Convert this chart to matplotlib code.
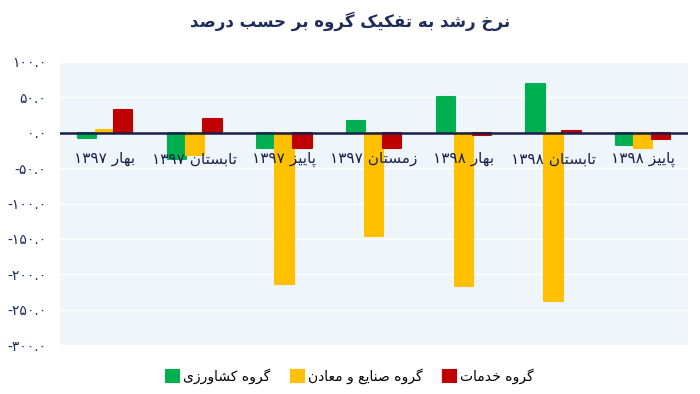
import re
import numpy as np
import matplotlib
matplotlib.use("Agg")
import matplotlib.pyplot as plt

# ---- datos ----
fases = ["بهار ۱۳۹۷", "تابستان ۱۳۹۷", "پاییز ۱۳۹۷", "زمستان ۱۳۹۷",
         "بهار ۱۳۹۸", "تابستان ۱۳۹۸", "پاییز ۱۳۹۸"]
keshavarzi = [-7, -37, -21, 16, 50, 69, -17]
sanaye = [4, -31, -214, -146, -216, -238, -21]
khadamat = [32, 20, -21, -21, -3, 3, -9]
nombres = ["گروه کشاورزی", "گروه صنایع و معادن", "گروه خدمات"]
colores = ["#00b050", "#ffc000", "#c00000"]
titulo = "نرخ رشد به تفکیک گروه بر حسب درصد"
yticks = [100, 50, 0, -50, -100, -150, -200, -250, -300]

# ---- formas de presentación (iso, fin, ini, med) ----
FORMAS = {
    "ا": ("\uFE8D", "\uFE8E", None, None),
    "ب": ("\uFE8F", "\uFE90", "\uFE91", "\uFE92"),
    "پ": ("\uFB56", "\uFB57", "\uFB58", "\uFB59"),
    "ت": ("\uFE95", "\uFE96", "\uFE97", "\uFE98"),
    "ح": ("\uFEA1", "\uFEA2", "\uFEA3", "\uFEA4"),
    "خ": ("\uFEA5", "\uFEA6", "\uFEA7", "\uFEA8"),
    "د": ("\uFEA9", "\uFEAA", None, None),
    "ر": ("\uFEAD", "\uFEAE", None, None),
    "ز": ("\uFEAF", "\uFEB0", None, None),
    "س": ("\uFEB1", "\uFEB2", "\uFEB3", "\uFEB4"),
    "ش": ("\uFEB5", "\uFEB6", "\uFEB7", "\uFEB8"),
    "ص": ("\uFEB9", "\uFEBA", "\uFEBB", "\uFEBC"),
    "ع": ("\uFEC9", "\uFECA", "\uFECB", "\uFECC"),
    "ف": ("\uFED1", "\uFED2", "\uFED3", "\uFED4"),
    "ک": ("\uFB8E", "\uFB8F", "\uFB90", "\uFB91"),
    "گ": ("\uFB92", "\uFB93", "\uFB94", "\uFB95"),
    "م": ("\uFEE1", "\uFEE2", "\uFEE3", "\uFEE4"),
    "ن": ("\uFEE5", "\uFEE6", "\uFEE7", "\uFEE8"),
    "ه": ("\uFEE9", "\uFEEA", "\uFEEB", "\uFEEC"),
    "و": ("\uFEED", "\uFEEE", None, None),
    "ی": ("\uFBFC", "\uFBFD", "\uFBFE", "\uFBFF"),
}


def fa(texto):
    '''Da forma a un texto persa y lo invierte para dibujarlo de izquierda a derecha.'''
    salida = []
    n = len(texto)
    for i, c in enumerate(texto):
        if c not in FORMAS:
            salida.append(c)
            continue
        prev = texto[i - 1] if i > 0 else ""
        nxt = texto[i + 1] if i + 1 < n else ""
        une_prev = prev in FORMAS and FORMAS[prev][2] is not None
        une_next = nxt in FORMAS and FORMAS[c][2] is not None
        iso, fin, ini, med = FORMAS[c]
        if une_prev and une_next:
            salida.append(med)
        elif une_prev:
            salida.append(fin)
        elif une_next:
            salida.append(ini)
        else:
            salida.append(iso)
    s = "".join(salida)[::-1]
    # los números se leen de izquierda a derecha
    return re.sub(r"[۰-۹]+", lambda m: m.group(0)[::-1], s)


def num_fa(v):
    s = "%.1f" % abs(v)
    s = s.translate(str.maketrans("0123456789", "۰۱۲۳۴۵۶۷۸۹"))
    return ("-" if v < 0 else "") + s


plt.rcParams['font.family'] = ['DejaVu Sans']
azul = "#1f2d5c"

fig = plt.figure(figsize=(7, 3.94), dpi=100)
ax = fig.add_axes([0.086, 0.124, 0.897, 0.719])
ax.set_facecolor("#eef6fc")

x = np.arange(len(fases))
paso = 0.2
series = [keshavarzi, sanaye, khadamat]
for k, (vals, col, nom) in enumerate(zip(series, colores, nombres)):
    ax.bar(x + (k - 1) * paso, vals, 0.205, color=col, edgecolor=col,
           linewidth=1.5, joinstyle="round", label=fa(nom), zorder=2)

ax.axhline(0, color="#1a1f4a", linewidth=1.8, zorder=3)
ax.set_xlim(-0.5, len(fases) - 0.5)
ax.set_ylim(-300, 100)
ax.set_yticks(yticks)
ax.set_yticklabels([num_fa(v) for v in yticks], color=azul, fontsize=10)
ax.yaxis.grid(True, color="white", linewidth=1)
ax.set_axisbelow(True)
ax.set_xticks([])
ax.tick_params(axis="y", length=0, pad=10)
for s in ax.spines.values():
    s.set_visible(False)

for xi, f in zip(x, fases):
    ax.text(xi, -37, fa(f), ha="center", va="center", fontsize=11,
            color="#1a1f4a", zorder=4)

fig.text(0.5, 0.945, fa(titulo), ha="center", va="center", fontsize=12,
         fontweight="bold", color=azul)

fig.legend(loc="center", bbox_to_anchor=(0.5, 0.045), ncol=3, frameon=False,
           fontsize=10, handlelength=0.9, handleheight=0.9, handletextpad=0.3,
           columnspacing=1.5)

fig.savefig("out.png", dpi=100)
